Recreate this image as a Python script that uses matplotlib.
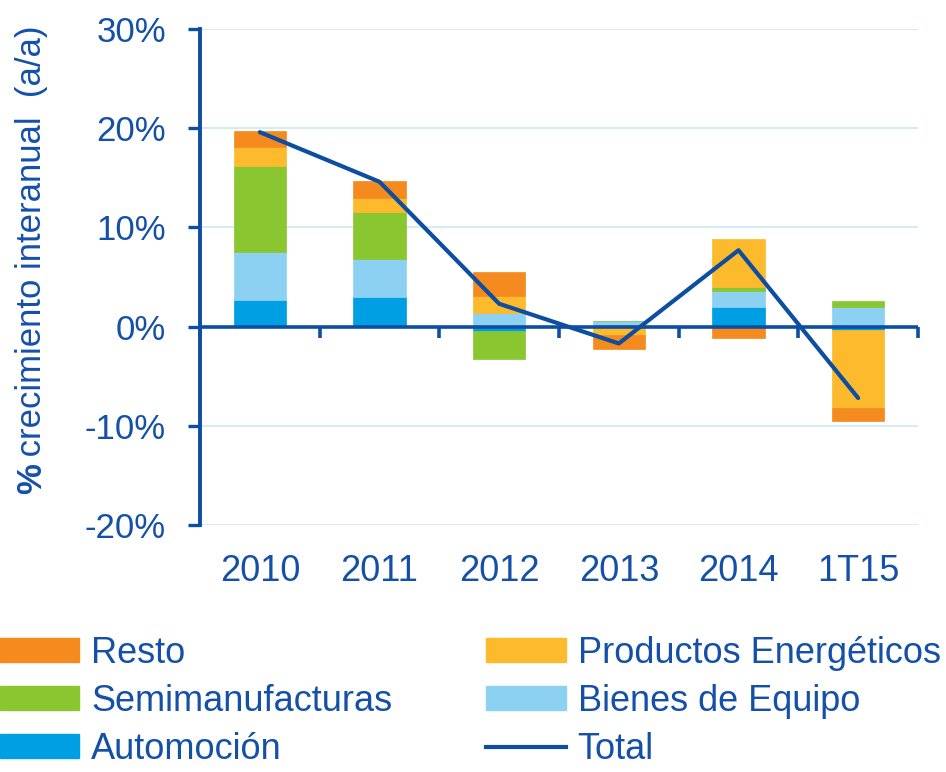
import matplotlib
matplotlib.use("Agg")
import matplotlib.pyplot as plt
import numpy as np
from matplotlib.patches import Patch
from matplotlib.lines import Line2D

categories = ["2010", "2011", "2012", "2013", "2014", "1T15"]
automocion = [2.7, 3.0, -0.4, 0.0, 2.0, -0.3]
bienes = [4.8, 3.8, 1.35, 0.6, 1.55, 2.0]
semi = [8.7, 4.8, -2.9, 0.0, 0.45, 0.55]
energeticos = [1.9, 1.4, 1.75, -0.8, 4.8, -7.9]
resto = [1.6, 1.7, 2.4, -1.5, -1.1, -1.3]
total = [19.6, 14.6, 2.3, -1.7, 7.7, -7.2]

series = [
    ("Automoción", automocion, "#009FE3"),
    ("Bienes de Equipo", bienes, "#8CD1F2"),
    ("Semimanufacturas", semi, "#8AC630"),
    ("Productos Energéticos", energeticos, "#FDBA2C"),
    ("Resto", resto, "#F58A1F"),
]
line_color = "#0D4EA2"
text_color = "#1450A8"
grid_color = "#CDE8F6"

plt.rcParams["font.family"] = ["Liberation Sans", "DejaVu Sans"]

fig = plt.figure(figsize=(9.46, 7.72), dpi=100)
ax = fig.add_axes([200 / 946, 1 - 525 / 772, 718 / 946, 496 / 772])

x = np.arange(len(categories))
pos_base = np.zeros(len(categories))
neg_base = np.zeros(len(categories))
for name, vals, col in series:
    v = np.array(vals, dtype=float)
    base = np.where(v >= 0, pos_base, neg_base)
    ax.bar(x, v, bottom=base, width=0.44, color=col, edgecolor=col,
           linewidth=0.5, zorder=2)
    pos_base = pos_base + np.where(v > 0, v, 0)
    neg_base = neg_base + np.where(v < 0, v, 0)

ax.axhline(0, color=line_color, lw=2.6, zorder=3)
ax.plot(x, total, color=line_color, lw=3.0, zorder=4, solid_capstyle="round")

ax.set_xlim(-0.5, len(categories) - 0.5)
ax.set_ylim(-20, 30)
yt = [-20, -10, 0, 10, 20, 30]
ax.set_yticks(yt)
ax.set_yticklabels([f"{t}%" for t in yt], fontsize=25, color=text_color)
ax.tick_params(axis="y", direction="out", length=8.6, width=2.4,
               color=line_color, pad=16)
ax.set_xticks(x)
ax.set_xticklabels(categories, fontsize=26, color=text_color)
ax.tick_params(axis="x", length=0, pad=21)

for s in ["top", "right", "bottom"]:
    ax.spines[s].set_visible(False)
ax.spines["left"].set_color(line_color)
ax.spines["left"].set_linewidth(2.8)
ax.yaxis.grid(True, color=grid_color, lw=1.2, zorder=0)
ax.set_axisbelow(True)

# category-boundary ticks on the zero line
sec = ax.secondary_xaxis(0.4)
sec.set_xticks(np.arange(len(categories) + 1) - 0.5)
sec.set_xticklabels([])
sec.tick_params(direction="out", length=8, width=2.6, color=line_color)
sec.spines["bottom"].set_visible(False)

lbl_y = 494
fig.text(32 / 946, 1 - lbl_y / 772, "%", rotation=90, fontsize=25,
         fontweight="bold", color=text_color, ha="center", va="bottom")
fig.text(32 / 946, 1 - (lbl_y - 28) / 772, " crecimiento interanual  (a/a)",
         rotation=90, fontsize=25, color=text_color, ha="center", va="bottom")

handles = [
    Patch(facecolor="#F58A1F", edgecolor="#F58A1F"),
    Patch(facecolor="#8AC630", edgecolor="#8AC630"),
    Patch(facecolor="#009FE3", edgecolor="#009FE3"),
    Patch(facecolor="#FDBA2C", edgecolor="#FDBA2C"),
    Patch(facecolor="#8CD1F2", edgecolor="#8CD1F2"),
    Line2D([0], [0], color=line_color, lw=3.0),
]
labels = ["Resto", "Semimanufacturas", "Automoción",
          "Productos Energéticos", "Bienes de Equipo", "Total"]
leg = fig.legend(handles, labels, ncol=2, loc="upper left",
                 bbox_to_anchor=(0 / 946, 1 - 636 / 772), frameon=False,
                 fontsize=26, handlelength=2.2, handleheight=0.65,
                 handletextpad=0.33, labelspacing=0.36, columnspacing=2.6,
                 borderpad=0, borderaxespad=0)
for t in leg.get_texts():
    t.set_color(text_color)

fig.savefig("out.png", dpi=100)
